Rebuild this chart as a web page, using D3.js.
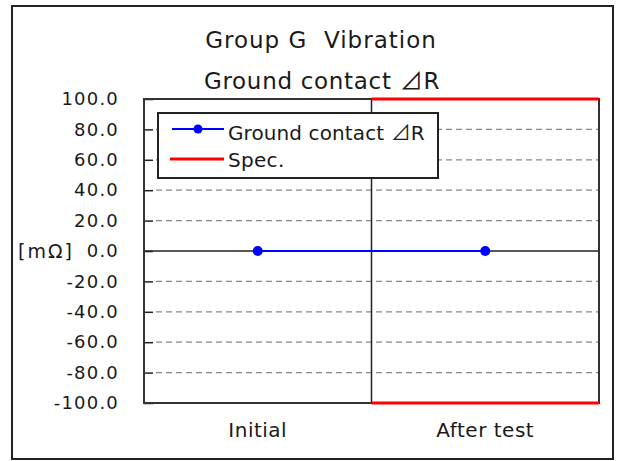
<!DOCTYPE html>
<html>
<head>
<meta charset="utf-8">
<script src="https://cdn.jsdelivr.net/npm/d3@7"></script>
<style>
  body { margin: 0; background: #fff; }
  text { font-family: "DejaVu Sans", "Noto Sans", sans-serif; fill: #1a1a1a; }
  .tri { font-family: "Noto Sans CJK JP", "DejaVu Sans", sans-serif; }
</style>
</head>
<body>
<script>
// chart data
var categories = ["Initial", "After test"];
var deltaR = [0.0, 0.0];            // Ground contact ⊿R [mΩ]
var specUpper = [null, 100.0];      // spec limits, After test only
var specLower = [null, -100.0];
var yTicks = [100, 80, 60, 40, 20, 0, -20, -40, -60, -80, -100];

// text with the ⊿ drawn from a CJK font (DejaVu's is tiny)
function labelWithDelta(sel, before) {
    sel.style("white-space", "pre");
    sel.append("tspan").text(before + " ");
    sel.append("tspan").attr("class", "tri").text("⊿");
    sel.append("tspan").text("R");
}

window.onload = () => {
    var W = 618, H = 461;
    var margin = { top: 99, right: 19, bottom: 58, left: 144 },
        width = W - margin.left - margin.right,
        height = H - margin.top - margin.bottom;

    var svg = d3.select("body").append("svg")
        .attr("width", W).attr("height", H);

    // outer frame
    svg.append("rect")
        .attr("x", 12).attr("y", 6)
        .attr("width", 601).attr("height", 453)
        .attr("fill", "none").attr("stroke", "#222").attr("stroke-width", 2);

    // titles
    svg.append("text").attr("x", 321).attr("y", 48)
        .attr("text-anchor", "middle")
        .style("font-size", "23px").style("letter-spacing", "1px")
        .style("white-space", "pre")
        .text("Group G  Vibration");
    svg.append("text").attr("x", 322).attr("y", 89)
        .attr("text-anchor", "middle")
        .style("font-size", "23px").style("letter-spacing", "0.7px")
        .call(labelWithDelta, "Ground contact");

    var g = svg.append("g")
        .attr("transform", "translate(" + margin.left + "," + margin.top + ")");

    var x = d3.scaleBand().domain(categories).range([0, width]);
    var y = d3.scaleLinear().domain([-100, 100]).range([height, 0]);

    // dashed grid
    g.append("g").selectAll("line")
        .data(yTicks.filter(d => d !== 0 && Math.abs(d) !== 100))
        .enter().append("line")
        .attr("x1", 12).attr("x2", width)
        .attr("y1", d => y(d)).attr("y2", d => y(d))
        .attr("stroke", "#888").attr("stroke-width", 1.2)
        .attr("stroke-dasharray", "6,4");

    // y axis labels + inner ticks
    var yAxis = g.append("g")
        .call(d3.axisLeft(y).tickValues(yTicks).tickSize(-9).tickPadding(25)
            .tickFormat(d => d.toFixed(1)));
    yAxis.select(".domain").remove();
    yAxis.selectAll(".tick line").attr("stroke", "#222").attr("stroke-width", 1.5);
    yAxis.selectAll(".tick text").attr("fill", "#1a1a1a")
        .style("font-family", "DejaVu Sans, sans-serif")
        .style("font-size", "18px").style("letter-spacing", "1.2px");

    svg.append("text").attr("x", 18).attr("y", y(0) + margin.top + 7)
        .style("font-size", "19px").style("letter-spacing", "2px").text("[mΩ]");

    // zero line and category divider
    g.append("line").attr("x1", 0).attr("x2", width)
        .attr("y1", y(0)).attr("y2", y(0))
        .attr("stroke", "#222").attr("stroke-width", 1.5);
    g.append("line").attr("x1", x.bandwidth()).attr("x2", x.bandwidth())
        .attr("y1", 0).attr("y2", height)
        .attr("stroke", "#222").attr("stroke-width", 1.5);

    // x axis labels
    var xAxis = g.append("g")
        .attr("transform", "translate(0," + height + ")")
        .call(d3.axisBottom(x).tickSize(0).tickPadding(20));
    xAxis.select(".domain").remove();
    xAxis.selectAll("text").attr("fill", "#1a1a1a")
        .style("font-family", "DejaVu Sans, sans-serif")
        .style("font-size", "20px").style("letter-spacing", "0.5px");

    // plot frame
    g.append("rect").attr("width", width).attr("height", height)
        .attr("fill", "none").attr("stroke", "#333").attr("stroke-width", 2);

    // spec lines (span the After test band)
    [specUpper, specLower].forEach(function (spec) {
        categories.forEach(function (c, i) {
            if (spec[i] === null) return;
            g.append("line")
                .attr("x1", x(c)).attr("x2", x(c) + x.bandwidth())
                .attr("y1", y(spec[i])).attr("y2", y(spec[i]))
                .attr("stroke", "#ff0000").attr("stroke-width", 3);
        });
    });

    // data series
    var pts = categories.map((c, i) => [x(c) + x.bandwidth() / 2, y(deltaR[i])]);
    g.append("path").attr("d", d3.line()(pts))
        .attr("fill", "none").attr("stroke", "#0000ff").attr("stroke-width", 2);
    g.selectAll(".dot").data(pts).enter().append("circle")
        .attr("class", "dot")
        .attr("cx", d => d[0]).attr("cy", d => d[1]).attr("r", 5)
        .attr("fill", "#0000ff");

    // legend
    var lg = svg.append("g").attr("transform", "translate(158,113)");
    lg.append("rect").attr("width", 280).attr("height", 65)
        .attr("fill", "#fff").attr("stroke", "#222").attr("stroke-width", 2);
    lg.append("line").attr("x1", 14).attr("x2", 66).attr("y1", 16).attr("y2", 16)
        .attr("stroke", "#0000ff").attr("stroke-width", 2);
    lg.append("circle").attr("cx", 40).attr("cy", 16).attr("r", 4.5).attr("fill", "#0000ff");
    lg.append("text").attr("x", 70).attr("y", 27)
        .style("font-size", "20px").style("letter-spacing", "0.1px")
        .call(labelWithDelta, "Ground contact");
    lg.append("line").attr("x1", 12).attr("x2", 66).attr("y1", 46).attr("y2", 46)
        .attr("stroke", "#ff0000").attr("stroke-width", 3);
    lg.append("text").attr("x", 70).attr("y", 54)
        .style("font-size", "20px").style("letter-spacing", "0.3px")
        .text("Spec.");
};
</script>
</body>
</html>
